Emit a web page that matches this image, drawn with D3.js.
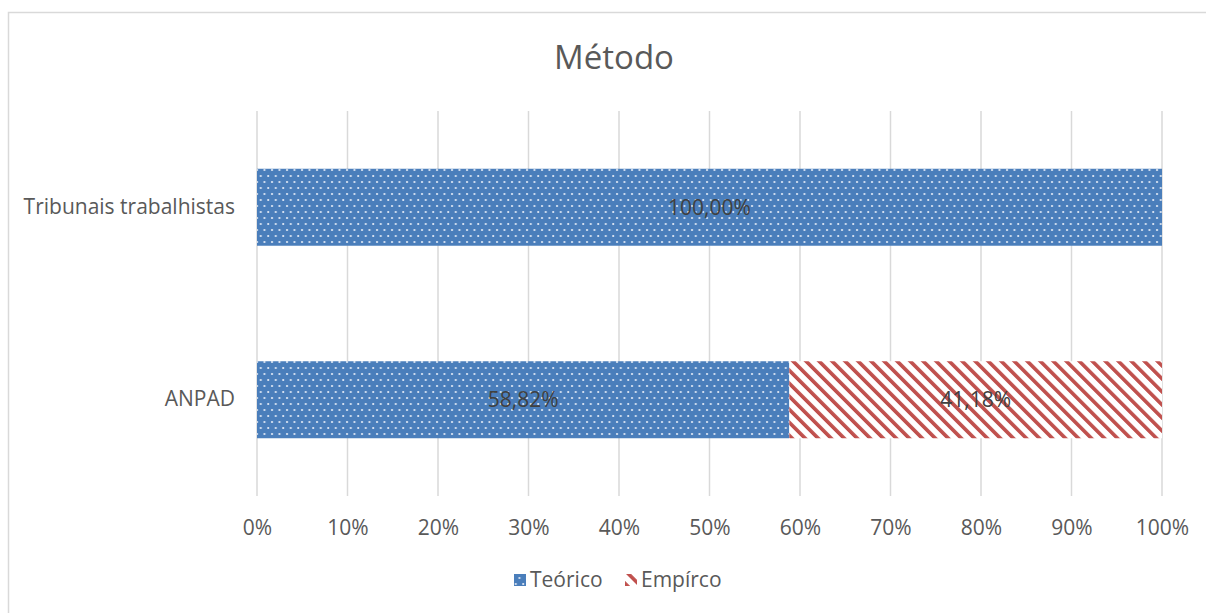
<!DOCTYPE html>
<html>
<head>
<meta charset="utf-8">
<script src="https://cdn.jsdelivr.net/npm/d3@7"></script>
<style>
  html, body { margin: 0; padding: 0; background: #fff; }
  svg { display: block; font-family: 'Open Sans', sans-serif; }
</style>
</head>
<body>
<div class="js-container"></div>
<script>
(function() {
  'use strict';

  // Chart data
  var categories = ['Tribunais trabalhistas', 'ANPAD'];
  var seriesNames = ['Teórico', 'Empírco'];
  var teorico = [1.0, 0.5882];
  var empirico = [0.0, 0.4118];
  var tickValues = [0, 0.1, 0.2, 0.3, 0.4, 0.5, 0.6, 0.7, 0.8, 0.9, 1.0];

  var W = 1206, H = 613;
  var margin = { left: 257, right: 44, top: 111, bottom: 117 };
  var fontSize = 21;

  var svg = d3.select('.js-container').append('svg')
      .attr('width', W)
      .attr('height', H);

  var defs = svg.append('defs');

  // dotted blue fill
  var dots = defs.append('pattern')
      .attr('id', 'dots')
      .attr('patternUnits', 'userSpaceOnUse')
      .attr('width', 7.5)
      .attr('height', 12);
  dots.append('rect').attr('width', 7.5).attr('height', 12).attr('fill', '#4a7ebb');
  dots.append('circle').attr('cx', 2).attr('cy', 2).attr('r', 1.1).attr('fill', '#e6edf7');
  dots.append('circle').attr('cx', 5.75).attr('cy', 8).attr('r', 1.1).attr('fill', '#e6edf7');

  // red diagonal stripes, going down to the right
  var stripes = defs.append('pattern')
      .attr('id', 'stripes')
      .attr('patternUnits', 'userSpaceOnUse')
      .attr('width', 9.2)
      .attr('height', 9.2)
      .attr('patternTransform', 'rotate(-45)');
  stripes.append('rect').attr('width', 9.2).attr('height', 9.2).attr('fill', '#fff');
  stripes.append('rect').attr('x', 0).attr('width', 3.6).attr('height', 9.2).attr('fill', '#c0504d');

  var fills = ['url(#dots)', 'url(#stripes)'];

  // chart border
  svg.append('rect')
      .attr('x', 8.5).attr('y', 12.5)
      .attr('width', W + 20).attr('height', H + 20)
      .attr('fill', 'none')
      .attr('stroke', '#d9d9d9')
      .attr('stroke-width', 1.5);

  var x = d3.scaleLinear()
      .domain([0, 1])
      .range([margin.left, W - margin.right]);

  var y = d3.scaleBand()
      .domain(categories)
      .range([margin.top, H - margin.bottom])
      .paddingInner(0.6)
      .paddingOuter(0.3);

  // title
  svg.append('text')
      .attr('x', 614)
      .attr('y', 69)
      .attr('text-anchor', 'middle')
      .attr('font-size', 33)
      .attr('fill', '#595959')
      .text('Método');

  // gridlines
  svg.append('g').selectAll('line')
      .data(tickValues)
      .join('line')
      .attr('x1', function(d) { return x(d); })
      .attr('x2', function(d) { return x(d); })
      .attr('y1', margin.top)
      .attr('y2', H - margin.bottom)
      .attr('stroke', '#d9d9d9')
      .attr('stroke-width', 1.5);

  // x axis labels
  var xAxis = d3.axisBottom(x)
      .tickValues(tickValues)
      .tickFormat(d3.format('.0%'))
      .tickSize(0)
      .tickPadding(0);
  var gx = svg.append('g')
      .attr('transform', 'translate(0,' + (H - margin.bottom + 24) + ')')
      .call(xAxis);
  gx.select('.domain').remove();
  gx.selectAll('text')
      .attr('font-size', fontSize)
      .attr('font-family', 'Open Sans, sans-serif')
      .attr('fill', '#595959');

  // y axis labels
  var yAxis = d3.axisLeft(y).tickSize(0).tickPadding(22);
  var gy = svg.append('g')
      .attr('transform', 'translate(' + margin.left + ',0)')
      .call(yAxis);
  gy.select('.domain').remove();
  gy.selectAll('text')
      .attr('font-size', fontSize)
      .attr('font-family', 'Open Sans, sans-serif')
      .attr('fill', '#595959');

  // stacked bars
  var rows = categories.map(function(c, i) {
    return { cat: c, values: [teorico[i], empirico[i]] };
  });
  var fmt = function(v) { return (v * 100).toFixed(2).replace('.', ',') + '%'; };

  rows.forEach(function(r) {
    var start = 0;
    r.values.forEach(function(v, s) {
      if (v > 0) {
        svg.append('rect')
            .attr('x', x(start))
            .attr('y', y(r.cat))
            .attr('width', x(start + v) - x(start))
            .attr('height', y.bandwidth())
            .attr('fill', fills[s]);
        svg.append('text')
            .attr('x', (x(start) + x(start + v)) / 2)
            .attr('y', y(r.cat) + y.bandwidth() / 2)
            .attr('dy', '0.35em')
            .attr('text-anchor', 'middle')
            .attr('font-size', fontSize)
            .attr('fill', '#404040')
            .text(fmt(v));
      }
      start += v;
    });
  });

  // legend
  var legendX = [514, 625];
  var legend = svg.append('g');
  seriesNames.forEach(function(name, i) {
    legend.append('rect')
        .attr('x', legendX[i])
        .attr('y', 574)
        .attr('width', 12)
        .attr('height', 12)
        .attr('fill', fills[i]);
    legend.append('text')
        .attr('x', legendX[i] + 16)
        .attr('y', 580)
        .attr('dy', '0.35em')
        .attr('font-size', fontSize)
        .attr('fill', '#595959')
        .text(name);
  });

}());
</script>
</body>
</html>
